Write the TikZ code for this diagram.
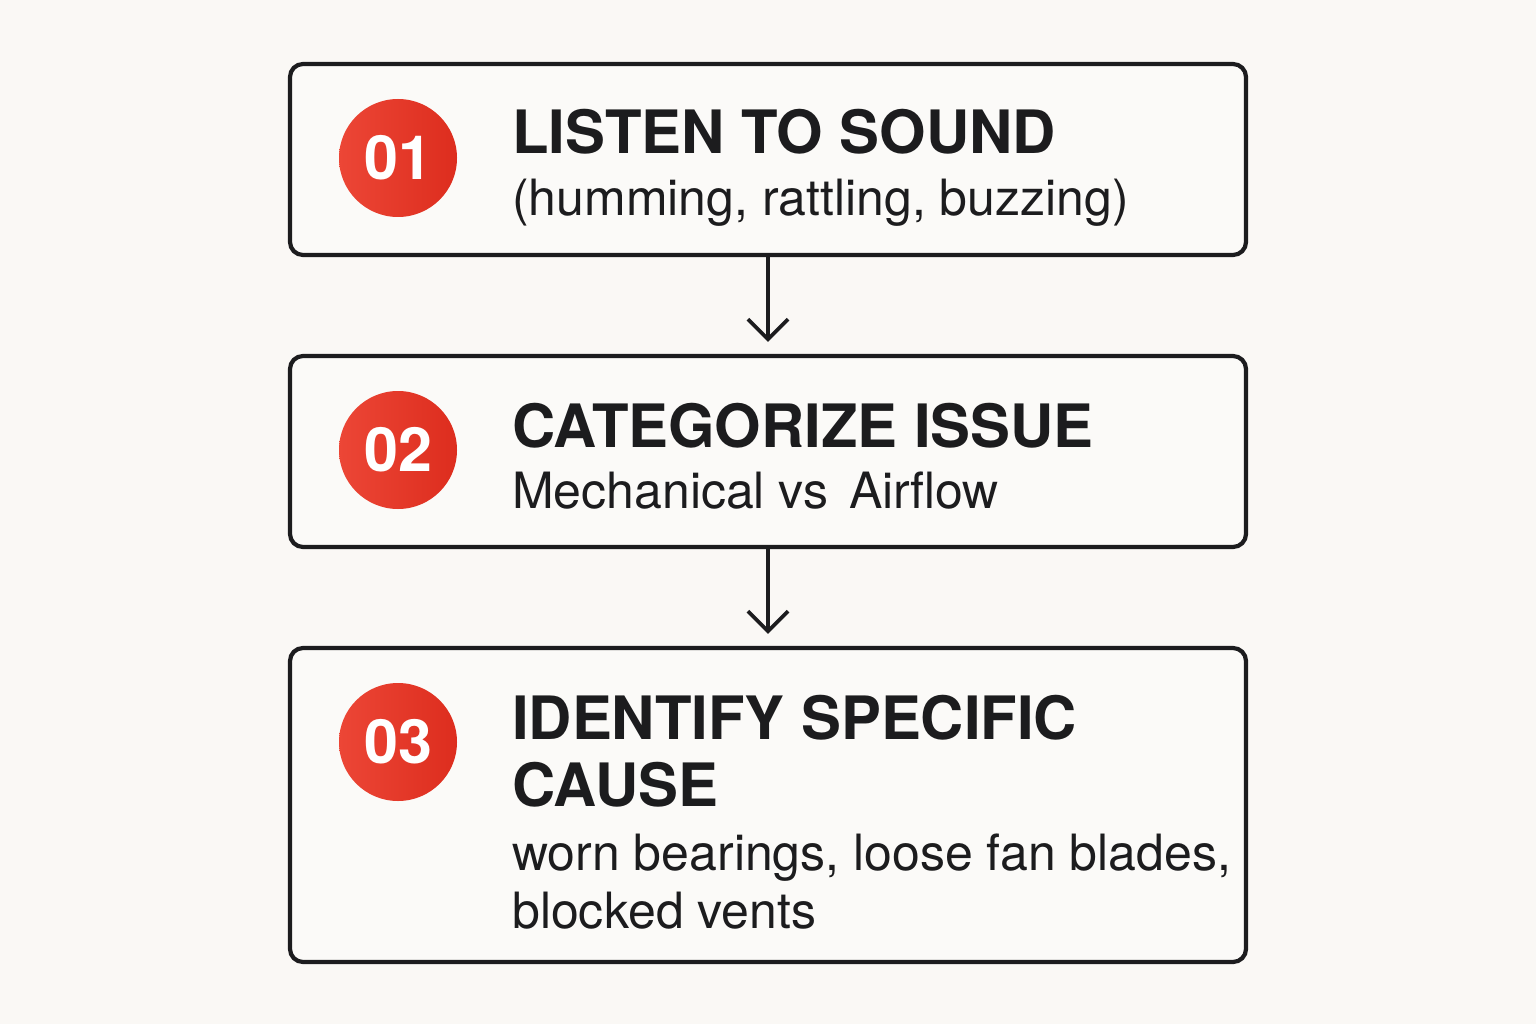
\documentclass[tikz,border=0pt]{standalone}
\usepackage{fontspec}
\setmainfont{TeX Gyre Heros}
\usetikzlibrary{arrows.meta}
\definecolor{bg}{HTML}{FAF8F5}
\definecolor{boxbg}{HTML}{FBFAF8}
\definecolor{ink}{HTML}{1C1C1E}
\definecolor{redA}{HTML}{EC4636}
\definecolor{redB}{HTML}{DD2D1E}
\begin{document}
\begin{tikzpicture}[x=1pt,y=-1pt,
  stepbox/.style={draw=ink,line width=4.2pt,rounded corners=13pt,fill=boxbg,inner sep=0pt,minimum width=956pt},
  badge/.style={circle,minimum size=118pt,inner sep=0pt,left color=redA,right color=redB,text=white,
    font=\fontsize{61}{70}\selectfont\bfseries},
  head/.style={anchor=base west,inner sep=0pt,text=ink,font=\fontsize{59.8}{70}\selectfont\bfseries},
  sub/.style={anchor=base west,inner sep=0pt,text=ink,font=\fontsize{50}{60}\selectfont},
  arr/.style={draw=ink,line width=3.8pt,-{Straight Barb[length=20pt,width=40pt]},shorten >=12pt}
]
\fill[bg] (0,0) rectangle (1536,1024);
\useasboundingbox (0,0) rectangle (1536,1024);

\node[stepbox,minimum height=191pt] (b1) at (768,159.5) {};
\node[stepbox,minimum height=191pt] (b2) at (768,451.5) {};
\node[stepbox,minimum height=314pt] (b3) at (768,805) {};

\node[badge] (c1) at (398,158) {01};
\node[badge] (c2) at (398,450) {02};
\node[badge] (c3) at (398,742) {03};

\node[head] (h1) at (512,154) {LISTEN TO SOUND};
\node[sub] (s1) at (512,216) {(humming, rattling, buzzing)};

\node[head] (h2) at (512,447) {CATEGORIZE ISSUE};
\node[sub] (s2) at (512,508) {Mechanical vs\hspace{21pt}Airflow};

\node[head] (h3a) at (512,739) {IDENTIFY SPECIFIC};
\node[head] (h3b) at (512,806) {CAUSE};
\node[sub] (s3a) at (512,870) {worn bearings, loose fan blades,};
\node[sub] (s3b) at (512,928) {blocked vents};

\draw[arr] (b1) -- (b2);
\draw[arr] (b2) -- (b3);
\end{tikzpicture}
\end{document}
